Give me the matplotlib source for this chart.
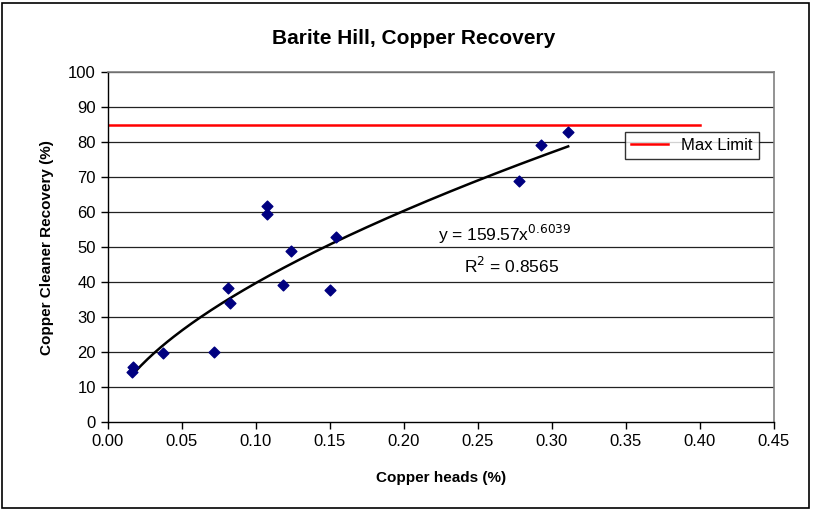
import numpy as np
from matplotlib import pyplot as plt
from matplotlib.patches import Rectangle

# data
cu_heads = [0.0166, 0.0173, 0.0375, 0.0718, 0.0814, 0.0826, 0.1074, 0.1074,
            0.1186, 0.1236, 0.150, 0.154, 0.2776, 0.2926, 0.311]
cu_recovery = [14.2, 15.6, 19.6, 19.9, 38.2, 33.9, 61.8, 59.4,
               39.3, 48.9, 37.8, 52.9, 68.9, 79.1, 82.9]
fit_a = 159.57
fit_b = 0.6039
r_squared = 0.8565
max_limit = 85
max_limit_x = [0.0, 0.40]

plt.rcParams['font.family'] = ['Liberation Sans', 'DejaVu Sans']

fig = plt.figure(figsize=(8.13, 5.11), dpi=100)
ax = fig.add_axes([0.1325, 0.1742, 0.8195, 0.6843])

# outer chart frame
fig.patches.append(Rectangle((0.003, 0.006), 0.992, 0.988, transform=fig.transFigure,
                             fill=False, edgecolor='black', linewidth=1.2))

for yv in range(10, 101, 10):
	ax.axhline(yv, color='#222222', linewidth=0.9, zorder=1)

ax.plot(max_limit_x, [max_limit, max_limit], color='red', linewidth=1.8, label='Max Limit', zorder=2)

xs = np.linspace(min(cu_heads), max(cu_heads), 200)
ax.plot(xs, fit_a * xs ** fit_b, color='black', linewidth=1.8, zorder=3)

ax.scatter(cu_heads, cu_recovery, marker='D', s=30, color='#000080', zorder=4)

ax.text(0.268, 53.6, 'y = 159.57x$^{0.6039}$', fontsize=12.5, ha='center', va='center')
ax.text(0.273, 44.6, 'R$^2$ = %.4f' % r_squared, fontsize=12.5, ha='center', va='center')

ax.set_xlim(0, 0.45)
ax.set_ylim(0, 100)
ax.set_xticks(np.arange(0, 0.451, 0.05))
ax.set_xticklabels(['%.2f' % v for v in np.arange(0, 0.451, 0.05)])
ax.set_yticks(range(0, 101, 10))
ax.tick_params(axis='both', labelsize=12, length=5, width=1, direction='out')

for side in ['top', 'right']:
	ax.spines[side].set_color('#808080')
	ax.spines[side].set_linewidth(1.2)
for side in ['left', 'bottom']:
	ax.spines[side].set_color('black')
	ax.spines[side].set_linewidth(1.0)

ax.set_xlabel('Copper heads (%)', fontsize=11, fontweight='bold', labelpad=16)
ax.set_ylabel('Copper Cleaner Recovery (%)', fontsize=11, fontweight='bold', labelpad=10)
fig.text(0.509, 0.925, 'Barite Hill, Copper Recovery', fontsize=15, fontweight='bold',
         ha='center', va='center')

leg = ax.legend(loc='upper right', bbox_to_anchor=(0.977, 0.828), fontsize=12, frameon=True,
                fancybox=False, handlelength=2.2, borderpad=0.35, borderaxespad=0)
leg.get_frame().set_edgecolor('black')
leg.get_frame().set_linewidth(1.0)

fig.savefig('out.png', dpi=100)
